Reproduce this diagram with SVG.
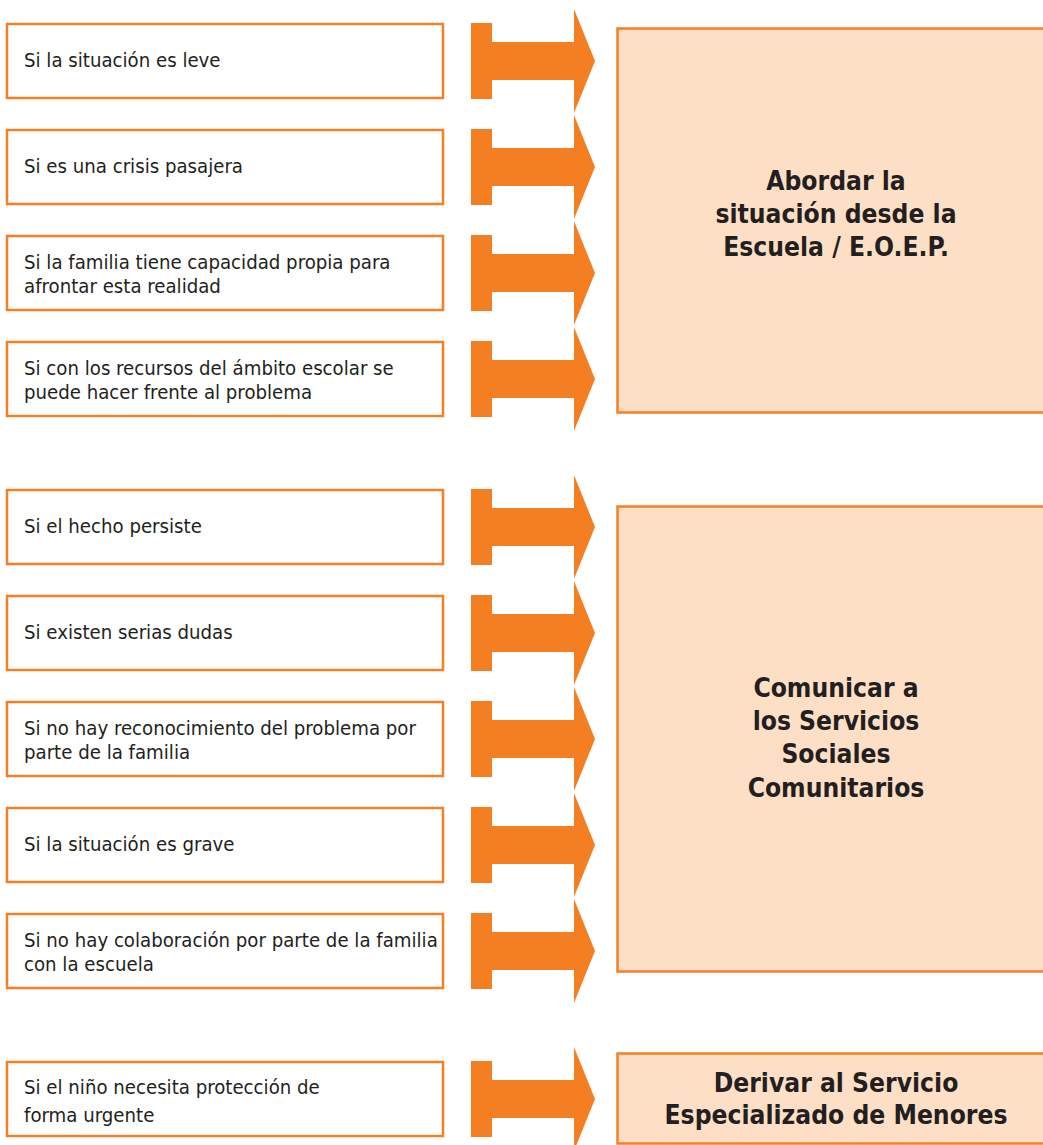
<svg xmlns="http://www.w3.org/2000/svg" width="1043" height="1145" viewBox="0 0 1043 1145">
<style>
.cond{fill:#fff;stroke:#F47F24;stroke-width:2.5}
.res{fill:#FDDFC6;stroke:#F47F24;stroke-width:2.5}
.ct{font-family:"DejaVu Sans Condensed","DejaVu Sans",sans-serif;font-size:20.2px;fill:#231F20}
.rt{font-family:"DejaVu Sans Condensed","DejaVu Sans",sans-serif;font-weight:bold;font-size:26.2px;fill:#231F20;text-anchor:middle}
.arr{fill:#F47F22}
</style>
<defs>
<path id="arrow" class="arr" d="M471,-38 H492 V-19 H574 V-52 L595,0 L574,52 V19 H492 V38 H471 Z"/>
</defs>
<rect width="1043" height="1145" fill="#fff"/>
<g id="connectors">
<use href="#arrow" y="61"/>
<use href="#arrow" y="167"/>
<use href="#arrow" y="273"/>
<use href="#arrow" y="379"/>
<use href="#arrow" y="527"/>
<use href="#arrow" y="633"/>
<use href="#arrow" y="739"/>
<use href="#arrow" y="845"/>
<use href="#arrow" y="951"/>
<use href="#arrow" y="1099"/>
</g>
<g id="c1"><rect class="cond" x="7" y="24" width="436" height="74"/><text class="ct" x="24" y="67">Si la situación es leve</text></g>
<g id="c2"><rect class="cond" x="7" y="130" width="436" height="74"/><text class="ct" x="24" y="173">Si es una crisis pasajera</text></g>
<g id="c3"><rect class="cond" x="7" y="236" width="436" height="74"/><text class="ct" x="24" y="269">Si la familia tiene capacidad propia para</text><text class="ct" x="24" y="293">afrontar esta realidad</text></g>
<g id="c4"><rect class="cond" x="7" y="342" width="436" height="74"/><text class="ct" x="24" y="375">Si con los recursos del ámbito escolar se</text><text class="ct" x="24" y="399">puede hacer frente al problema</text></g>
<g id="c5"><rect class="cond" x="7" y="490" width="436" height="74"/><text class="ct" x="24" y="533">Si el hecho persiste</text></g>
<g id="c6"><rect class="cond" x="7" y="596" width="436" height="74"/><text class="ct" x="24" y="639">Si existen serias dudas</text></g>
<g id="c7"><rect class="cond" x="7" y="702" width="436" height="74"/><text class="ct" x="24" y="735">Si no hay reconocimiento del problema por</text><text class="ct" x="24" y="759">parte de la familia</text></g>
<g id="c8"><rect class="cond" x="7" y="808" width="436" height="74"/><text class="ct" x="24" y="851">Si la situación es grave</text></g>
<g id="c9"><rect class="cond" x="7" y="914" width="436" height="74"/><text class="ct" x="24" y="947">Si no hay colaboración por parte de la familia</text><text class="ct" x="24" y="971">con la escuela</text></g>
<g id="c10"><rect class="cond" x="7" y="1062" width="436" height="74"/><text class="ct" x="24" y="1094">Si el niño necesita protección de</text><text class="ct" x="24" y="1122">forma urgente</text></g>
<g id="r1"><rect class="res" x="617.5" y="28.5" width="440" height="384"/><text class="rt" x="836" y="190">Abordar la</text><text class="rt" x="836" y="223">situación desde la</text><text class="rt" x="836" y="256">Escuela / E.O.E.P.</text></g>
<g id="r2"><rect class="res" x="617.5" y="506.5" width="440" height="465"/><text class="rt" x="836" y="697">Comunicar a</text><text class="rt" x="836" y="730">los Servicios</text><text class="rt" x="836" y="763">Sociales</text><text class="rt" x="836" y="797">Comunitarios</text></g>
<g id="r3"><rect class="res" x="617.5" y="1053.5" width="440" height="90"/><text class="rt" x="836" y="1092">Derivar al Servicio</text><text class="rt" x="836" y="1124">Especializado de Menores</text></g>
</svg>
